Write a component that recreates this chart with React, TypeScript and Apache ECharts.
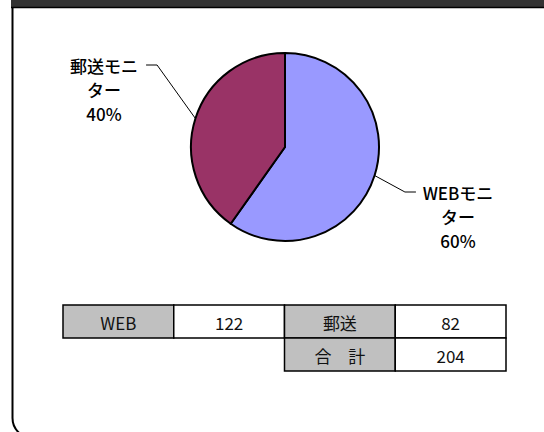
import React, { useEffect, useRef } from "react";
import * as echarts from "echarts";

// ---- data ----
const categories = ["WEBモニター", "郵送モニター"];
const labelTexts = ["WEBモニ\nター", "郵送モニ\nター"]; // wrapped as in the picture
const counts = [122, 82];
const tableLabels = ["WEB", "郵送", "合　計"];
const colors = ["#9999FF", "#993366"];

// ---- layout ----
const W = 544;
const H = 432;
const pieCenter = [285, 147];
const pieRadius = 94;
// x = text centre, y = centre of first text line
const labelPos = [
  [458, 192],
  [104, 65],
];
const LINE_H = 24;
// two invisible lines above the text put the label box's centre on the first line,
// and their width leaves a small gap between the leader line and the text
const SPACER = " ".repeat(22);
const tableX = 63;
const tableY = 305;
const colW = 110.75;
const rowH = 33;
const FONT = '"Noto Sans CJK JP", "Noto Sans", sans-serif';

export default function App() {
  const ref = useRef<HTMLDivElement>(null);

  useEffect(() => {
    if (!ref.current) return;
    const chart = echarts.init(ref.current, null, { renderer: "svg" });
    const total = counts.reduce((a, b) => a + b, 0);

    // table cells: [col, row, text, gray]
    const cells: [number, number, string, boolean][] = [
      [0, 0, tableLabels[0], true],
      [1, 0, String(counts[0]), false],
      [2, 0, tableLabels[1], true],
      [3, 0, String(counts[1]), false],
      [2, 1, tableLabels[2], true],
      [3, 1, String(total), false],
    ];
    const tableGraphics: any[] = [];
    cells.forEach(([c, r, t, gray]) => {
      tableGraphics.push({
        type: "rect",
        shape: { x: tableX + c * colW, y: tableY + r * rowH, width: colW, height: rowH },
        style: { fill: gray ? "#C0C0C0" : "#FFFFFF", stroke: "#000", lineWidth: 1.5 },
        z: 10,
      });
      tableGraphics.push({
        type: "text",
        x: tableX + c * colW + colW / 2,
        y: tableY + r * rowH + rowH / 2 + 1,
        style: {
          text: t,
          fill: "#111",
          font: `17px ${FONT}`,
          textAlign: "center",
          textVerticalAlign: "middle",
        },
        z: 11,
      });
    });

    chart.setOption({
      animation: false,
      backgroundColor: "#FFFFFF",
      graphic: [
        {
          type: "rect",
          shape: { x: 12.5, y: -30, width: 580, height: 468, r: 20 },
          style: { fill: "none", stroke: "#000", lineWidth: 2 },
          z: 1,
        },
        {
          type: "rect",
          shape: { x: 11, y: 0, width: 540, height: 7 },
          style: { fill: "#333333" },
          z: 2,
        },
        {
          type: "line",
          shape: { x1: 11, y1: 7.5, x2: 544, y2: 7.5 },
          style: { stroke: "#000", lineWidth: 1.5 },
          z: 2,
        },
        ...tableGraphics,
      ],
      series: [
        {
          type: "pie",
          center: pieCenter,
          radius: pieRadius,
          startAngle: 90,
          clockwise: true,
          percentPrecision: 0,
          data: categories.map((name, i) => ({
            name,
            value: counts[i],
            itemStyle: { color: colors[i] },
            label: { formatter: SPACER + "\n" + SPACER + "\n" + labelTexts[i] + "\n{d}%" },
          })),
          itemStyle: { borderColor: "#000", borderWidth: 2 },
          label: {
            show: true,
            position: "outside",
            color: "#000",
            fontFamily: FONT,
            fontSize: 17,
            fontWeight: 500,
            lineHeight: LINE_H,
          },
          labelLine: {
            show: true,
            length: 20,
            length2: 11,
            lineStyle: { color: "#000", width: 1 },
          },
          labelLayout: (params: any) => {
            const p = labelPos[params.dataIndex];
            return { x: p[0], y: p[1], align: "center", verticalAlign: "middle" };
          },
          emphasis: { disabled: true },
        },
      ],
    });
    return () => chart.dispose();
  }, []);

  return (
    <div
      ref={ref}
      style={{ position: "fixed", left: 0, top: 0, width: W, height: H }}
    />
  );
}
